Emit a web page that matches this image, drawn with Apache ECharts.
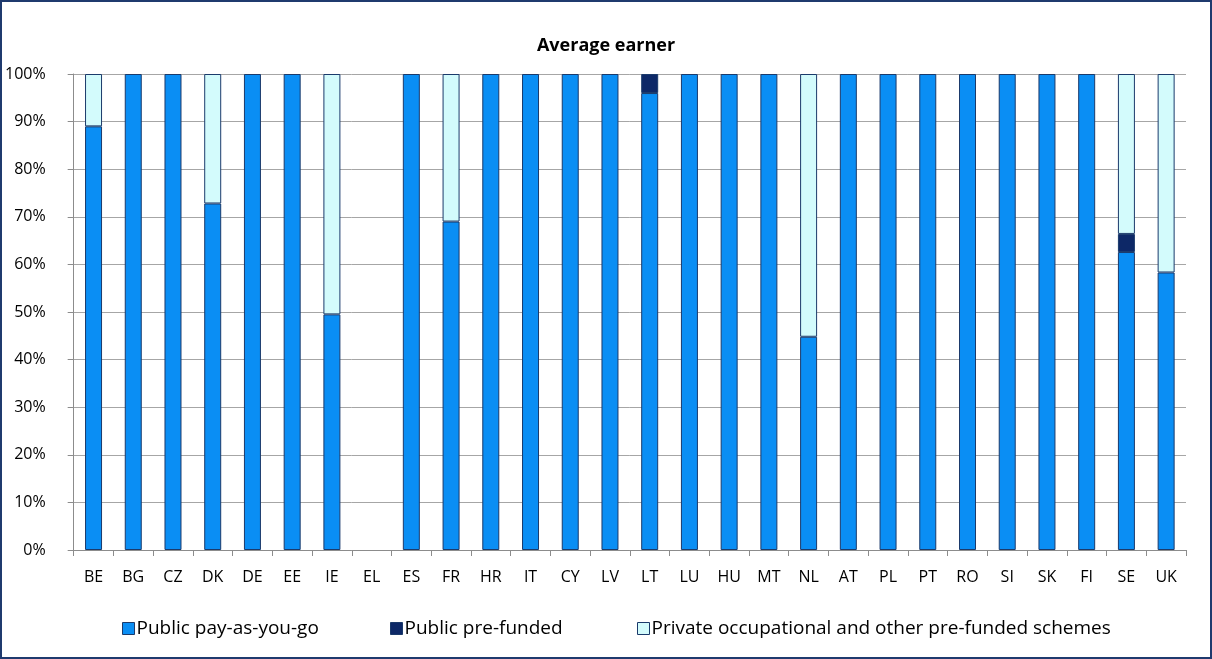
<!DOCTYPE html>
<html>
<head>
<meta charset="utf-8">
<script src="https://cdn.jsdelivr.net/npm/echarts@6/dist/echarts.min.js"></script>
<style>
  html, body { margin: 0; padding: 0; background: #fff; }
  #chart { width: 1212px; height: 659px; box-sizing: border-box; border: 2px solid #1f3a6e; }
</style>
</head>
<body>
<div id="chart"></div>
<script>
// categories and stacked shares (%)
var countries = ['BE', 'BG', 'CZ', 'DK', 'DE', 'EE', 'IE', 'EL', 'ES', 'FR', 'HR', 'IT', 'CY', 'LV', 'LT',
  'LU', 'HU', 'MT', 'NL', 'AT', 'PL', 'PT', 'RO', 'SI', 'SK', 'FI', 'SE', 'UK']
var publicPayg = [89, 100, 100, 72.8, 100, 100, 49.5, 0, 100, 69, 100, 100, 100, 100, 96,
  100, 100, 100, 44.8, 100, 100, 100, 100, 100, 100, 100, 62.6, 58.3]
var publicPrefunded = [0, 0, 0, 0, 0, 0, 0, 0, 0, 0, 0, 0, 0, 0, 4,
  0, 0, 0, 0, 0, 0, 0, 0, 0, 0, 0, 3.8, 0]
var privateSchemes = [11, 0, 0, 27.2, 0, 0, 50.5, 0, 0, 31, 0, 0, 0, 0, 0,
  0, 0, 0, 55.2, 0, 0, 0, 0, 0, 0, 0, 33.6, 41.7]
var yTicks = [0, 10, 20, 30, 40, 50, 60, 70, 80, 90, 100]
var seriesNames = ['Public pay-as-you-go', 'Public pre-funded', 'Private occupational and other pre-funded schemes']

var chart = echarts.init(document.getElementById('chart'))

var fontFamily = '"Open Sans", "Noto Sans", sans-serif'
var edge = '#1b3a6b'
var colors = ['#0a8ef4', '#0d2867', '#d3fbfc']

function barSeries (i, data) {
  return {
    name: seriesNames[i],
    type: 'bar',
    stack: 'total',
    // empty segments are left out so they draw no border line
    data: data.map(function (v) { return v === 0 ? '-' : v }),
    barWidth: 17,
    itemStyle: {
      color: colors[i],
      borderColor: edge,
      borderWidth: 1
    }
  }
}

function legendAt (i, left) {
  return {
    top: 612,
    left: left,
    itemWidth: 12,
    itemHeight: 12,
    icon: 'rect',
    selectedMode: false,
    textStyle: { fontSize: 19, color: '#000', fontFamily: fontFamily, padding: [0, 0, 0, -3] },
    data: [{ name: seriesNames[i], itemStyle: { borderColor: edge, borderWidth: 1 } }]
  }
}

chart.setOption({
  textStyle: { fontFamily: fontFamily },
  title: {
    text: 'Average earner',
    left: 'center',
    top: 30,
    textStyle: { fontSize: 18, fontWeight: 'bold', color: '#000', fontFamily: fontFamily }
  },
  grid: {
    left: 68,
    right: 24,
    top: 72,
    bottom: 107,
    containLabel: false
  },
  legend: [legendAt(0, 115), legendAt(1, 383), legendAt(2, 630)],
  xAxis: {
    type: 'category',
    data: countries,
    axisLine: { lineStyle: { color: '#8c8c8c' } },
    axisTick: { show: true, length: 6, lineStyle: { color: '#8c8c8c' } },
    axisLabel: { color: '#000', fontSize: 16, margin: 19 }
  },
  yAxis: {
    type: 'value',
    min: 0,
    max: 100,
    interval: 10,
    axisLine: { show: true, lineStyle: { color: '#8c8c8c' } },
    axisTick: { show: true, length: 6, lineStyle: { color: '#8c8c8c' } },
    axisLabel: {
      color: '#000',
      fontSize: 16,
      margin: 28,
      formatter: function (v) { return yTicks.indexOf(v) >= 0 ? v + '%' : '' }
    },
    splitLine: { lineStyle: { color: '#a6a6a6', width: 1 } }
  },
  series: [
    barSeries(0, publicPayg),
    barSeries(1, publicPrefunded),
    barSeries(2, privateSchemes)
  ]
})
</script>
</body>
</html>
